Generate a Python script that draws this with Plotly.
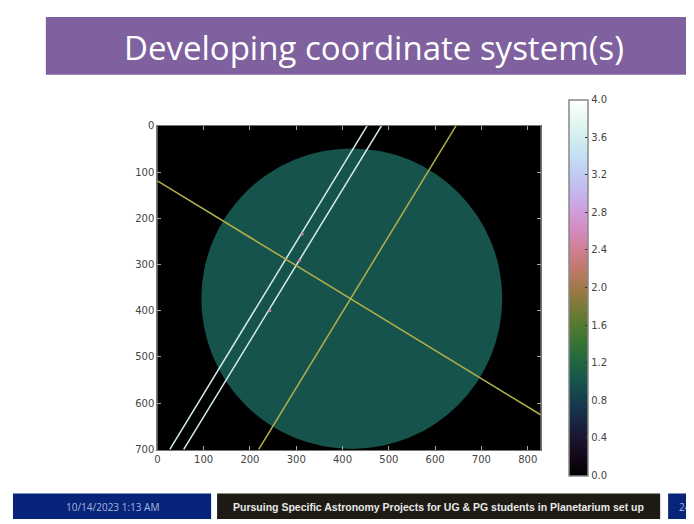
import numpy as np
import plotly.graph_objects as go

# image geometry (pixel units of the original image)
img_w = 828
img_h = 702
circle_cx = 420
circle_cy = 374
circle_r = 325

yellow_a_x = [0, 828]
yellow_a_y = [119, 625]
yellow_b_x = [645, 219]
yellow_b_y = [0, 700]
white_a_x = [453, 27]
white_a_y = [0, 700]
white_b_x = [484, 57]
white_b_y = [0, 700]

dots_x = [313, 307, 243]
dots_y = [234, 291, 400]
dots_val = [2.4, 2.4, 2.4]

x_ticks = [0, 100, 200, 300, 400, 500, 600, 700, 800]
y_ticks = [0, 100, 200, 300, 400, 500, 600, 700]
cbar_ticks = [0.0, 0.4, 0.8, 1.2, 1.6, 2.0, 2.4, 2.8, 3.2, 3.6, 4.0]

title = "Developing coordinate system(s)"
footer_date = "10/14/2023 1:13 AM"
footer_text = "Pursuing Specific Astronomy Projects for UG & PG students in Planetarium set up"
page_no = "24"


def cubehelix(n=21, start=0.5, rot=-1.5):
    scale = []
    for x in np.linspace(0, 1, n):
        phi = 2 * np.pi * (start / 3 + rot * x)
        amp = x * (1 - x) / 2
        r = x + amp * (-0.14861 * np.cos(phi) + 1.78277 * np.sin(phi))
        g = x + amp * (-0.29227 * np.cos(phi) - 0.90649 * np.sin(phi))
        b = x + amp * (1.97294 * np.cos(phi))
        rgb = [int(round(255 * min(max(c, 0), 1))) for c in (r, g, b)]
        scale.append([float(x), "rgb(%d,%d,%d)" % tuple(rgb)])
    return scale


# page body has an 8px margin, so the figure is a bit smaller and shifted
OFF = 8
W, H = 694 - OFF, 524 - OFF


def px(x):
    return (x - OFF) / W


def py(y):
    return 1 - (y - OFF) / H


ax_l, ax_r, ax_t, ax_b = 155, 540, 123, 454

fig = go.Figure()

for xs, ys, col in [(white_a_x, white_a_y, "#d6ecec"),
                    (white_b_x, white_b_y, "#d6ecec"),
                    (yellow_a_x, yellow_a_y, "#b4b04a"),
                    (yellow_b_x, yellow_b_y, "#b4b04a")]:
    fig.add_trace(go.Scatter(x=xs, y=ys, mode="lines", line=dict(color=col, width=1.5),
                             showlegend=False, hoverinfo="skip"))

fig.add_trace(go.Scatter(
    x=dots_x, y=dots_y, mode="markers", showlegend=False,
    marker=dict(size=3, color=dots_val, colorscale=cubehelix(), cmin=0, cmax=4,
                showscale=True,
                colorbar=dict(
                    x=px(568), xanchor="left", xref="paper",
                    y=py(288), yanchor="middle",
                    lenmode="pixels", len=376, thickness=19,
                    outlinecolor="#888", outlinewidth=1.5,
                    tickvals=cbar_ticks, tickformat=".1f",
                    ticks="inside", ticklen=3, tickcolor="#333",
                    tickfont=dict(family="DejaVu Sans", size=10, color="#444"),
                    xpad=0, ypad=0,
                )),
))

shapes = [
    dict(type="circle", xref="x", yref="y",
         x0=circle_cx - circle_r, x1=circle_cx + circle_r,
         y0=circle_cy - circle_r, y1=circle_cy + circle_r,
         fillcolor="#16534c", line_width=0, layer="below"),
    # title banner
    dict(type="rect", xref="paper", yref="paper", x0=px(43), x1=1,
         y0=py(71), y1=py(12), fillcolor="#7f61a0", line_width=0),
    # footer boxes
    dict(type="rect", xref="paper", yref="paper", x0=px(10), x1=px(209),
         y0=0, y1=py(498), fillcolor="#06247a", line_width=0),
    dict(type="rect", xref="paper", yref="paper", x0=px(215), x1=px(660),
         y0=0, y1=py(498), fillcolor="#1e1b15", line_width=0),
    dict(type="rect", xref="paper", yref="paper", x0=px(668), x1=1,
         y0=0, y1=py(498), fillcolor="#06247a", line_width=0),
]

annotations = [
    dict(text=title, xref="paper", yref="paper", x=px(373), y=py(43),
         showarrow=False, xanchor="center", yanchor="middle",
         font=dict(family="Open Sans", size=33, color="white")),
    dict(text=footer_date, xref="paper", yref="paper", x=px(110), y=py(512),
         showarrow=False, xanchor="center", yanchor="middle",
         font=dict(family="Open Sans", size=10, color="#a9b6dc")),
    dict(text="<b>" + footer_text + "</b>", xref="paper", yref="paper", x=px(437), y=py(512),
         showarrow=False, xanchor="center", yanchor="middle",
         font=dict(family="Liberation Sans", size=10.5, color="#e8e8e8")),
    dict(text=page_no, xref="paper", yref="paper", x=px(677), y=py(512),
         showarrow=False, xanchor="left", yanchor="middle",
         font=dict(family="Open Sans", size=10, color="#a9b6dc")),
]

axis_style = dict(showgrid=False, zeroline=False, ticks="inside", ticklen=4,
                  tickcolor="#aaa", showline=True, linecolor="#777", linewidth=1,
                  mirror="ticks",
                  tickfont=dict(family="DejaVu Sans", size=10, color="#444"))

fig.update_layout(
    width=W, height=H,
    margin=dict(l=0, r=0, t=0, b=0),
    paper_bgcolor="white", plot_bgcolor="black",
    xaxis=dict(domain=[px(ax_l), px(ax_r)], range=[0, img_w], tickvals=x_ticks, **axis_style),
    yaxis=dict(domain=[py(ax_b), py(ax_t)], range=[img_h, 0], tickvals=y_ticks, **axis_style),
    shapes=shapes,
    annotations=annotations,
)

fig.write_html("out.html")
